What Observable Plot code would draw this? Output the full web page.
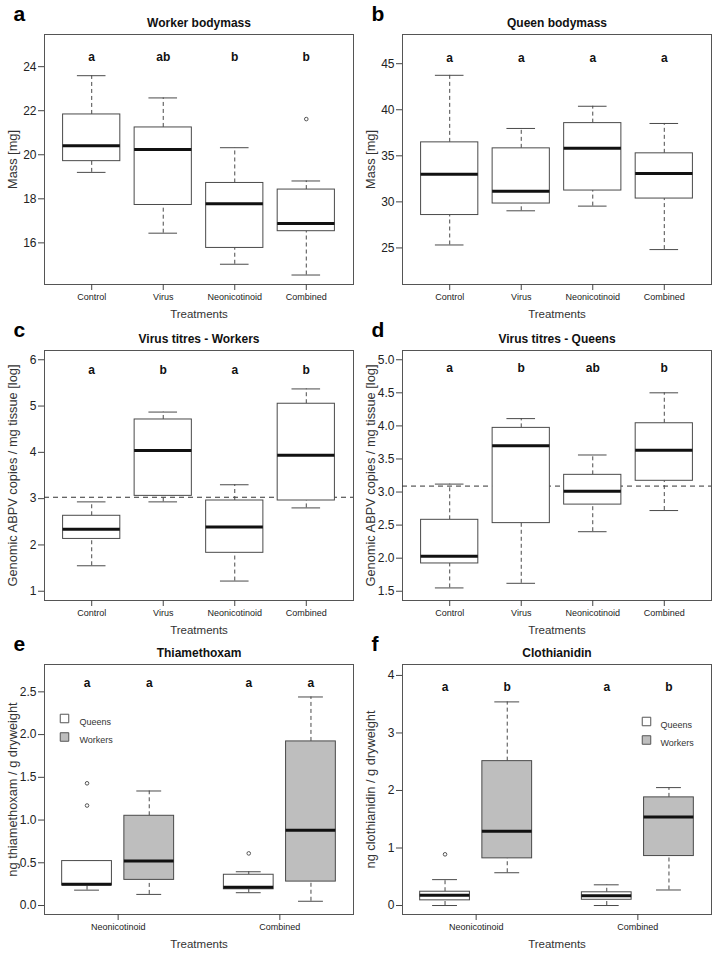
<!DOCTYPE html>
<html>
<head>
<meta charset="utf-8">
<script src="https://cdn.jsdelivr.net/npm/d3@7"></script>
<script src="https://cdn.jsdelivr.net/npm/@observablehq/plot@0.6"></script>
<style>
  body { margin: 0; background: #fff; }
  #wrap { position: relative; width: 716px; height: 953px; overflow: hidden; background: #fff; }
  .panel { position: absolute; }
</style>
</head>
<body>
<div id="wrap"></div>
<script>
// ---------- data ----------
const treatments = ["Control", "Virus", "Neonicotinoid", "Combined"];
const residueTreatments = ["Neonicotinoid", "Combined"];
const castes = ["Queens", "Workers"];

// each row: [min, q1, median, q3, max]
const workerMass = [
  [19.20, 19.71, 20.41, 21.83, 23.59],
  [16.44, 17.72, 20.24, 21.24, 22.58],
  [15.03, 15.77, 17.78, 18.72, 20.32],
  [14.54, 16.53, 16.88, 18.42, 18.81]
];
const workerMassOutliers = [[3, 21.62]];
const workerMassLetters = ["a", "ab", "b", "b"];

const queenMass = [
  [25.32, 28.57, 33.00, 36.46, 43.74],
  [29.03, 29.82, 31.16, 35.81, 37.97],
  [29.54, 31.23, 35.81, 38.55, 40.38],
  [24.82, 30.36, 33.07, 35.27, 38.51]
];
const queenMassOutliers = [];
const queenMassLetters = ["a", "a", "a", "a"];

const titreWorkers = [
  [1.55, 2.13, 2.34, 2.63, 2.93],
  [2.93, 3.06, 4.04, 4.71, 4.87],
  [1.22, 1.83, 2.39, 2.96, 3.30],
  [2.80, 2.96, 3.94, 5.05, 5.37]
];
const titreWorkersThreshold = 3.03;
const titreWorkersLetters = ["a", "b", "a", "b"];

const titreQueens = [
  [1.55, 1.92, 2.03, 2.58, 3.12],
  [1.62, 2.53, 3.70, 3.97, 4.11],
  [2.40, 2.81, 3.01, 3.26, 3.56],
  [2.72, 3.17, 3.63, 4.04, 4.50]
];
const titreQueensThreshold = 3.09;
const titreQueensLetters = ["a", "b", "ab", "b"];

// order: Neonicotinoid-Queens, Neonicotinoid-Workers, Combined-Queens, Combined-Workers
const thiamethoxam = [
  [0.18, 0.235, 0.25, 0.52, 0.52],
  [0.13, 0.30, 0.52, 1.05, 1.34],
  [0.15, 0.19, 0.215, 0.36, 0.395],
  [0.05, 0.28, 0.88, 1.92, 2.44]
];
const thiamethoxamOutliers = [[0, 1.17], [0, 1.43], [2, 0.61]];
const thiamethoxamLetters = ["a", "a", "a", "a"];

const clothianidin = [
  [0.00, 0.09, 0.18, 0.24, 0.45],
  [0.57, 0.82, 1.29, 2.51, 3.54],
  [0.00, 0.10, 0.17, 0.23, 0.36],
  [0.27, 0.86, 1.54, 1.88, 2.05]
];
const clothianidinOutliers = [[0, 0.89]];
const clothianidinLetters = ["a", "b", "a", "b"];

// ---------- drawing ----------
const FONT = "'Liberation Sans', Arial, Helvetica, sans-serif";
const casteFill = {Queens: "#ffffff", Workers: "#bebebe"};
const wrap = document.getElementById("wrap");

// simple layout: 4 treatment groups
const groupLayout = {
  pos: i => i + 1,
  ticks: treatments.map((t, i) => i + 1),
  tickLabels: treatments,
  xDomain: [0.34, 4.66],
  fill: () => "#ffffff"
};
// grouped layout: treatment x caste
const residueLayout = {
  pos: i => 1 + Math.floor(i / 2) * 2.6 + (i % 2),
  ticks: residueTreatments.map((t, g) => 1.5 + g * 2.6),
  tickLabels: residueTreatments,
  xDomain: [0.316, 5.284],
  fill: i => casteFill[castes[i % 2]]
};

function drawPanel(o) {
  const L = o.layout;
  const rows = o.stats.map((s, i) => ({
    x: L.pos(i), min: s[0], q1: s[1], med: s[2], q3: s[3], max: s[4],
    fill: L.fill(i), sig: o.letters[i]
  }));
  const outs = (o.outliers || []).map(([i, v]) => ({x: L.pos(i), y: v}));
  const tickName = new Map(L.ticks.map((t, i) => [t, L.tickLabels[i]]));
  const lineCol = "#4a4a4a";

  const marks = [
    Plot.frame({stroke: "#555", strokeWidth: 1}),
    Plot.axisX(L.ticks, {
      tickFormat: d => tickName.get(d), fontSize: 9, tickSize: 6, tickPadding: 3,
      label: null, stroke: "#444"
    }),
    Plot.axisY(o.yTicks, {
      tickFormat: o.yFormat, fontSize: 12, tickSize: 6, tickPadding: 2,
      label: null, stroke: "#444"
    })
  ];
  if (o.threshold != null) {
    marks.push(Plot.ruleY([o.threshold], {stroke: "#333", strokeDasharray: "5,4", strokeWidth: 1}));
  }
  marks.push(
    Plot.ruleX(rows, {x: "x", y1: "q3", y2: "max", stroke: lineCol, strokeDasharray: "4,3"}),
    Plot.ruleX(rows, {x: "x", y1: "min", y2: "q1", stroke: lineCol, strokeDasharray: "4,3"}),
    Plot.ruleY(rows, {y: "max", x1: d => d.x - 0.2, x2: d => d.x + 0.2, stroke: lineCol}),
    Plot.ruleY(rows, {y: "min", x1: d => d.x - 0.2, x2: d => d.x + 0.2, stroke: lineCol}),
    Plot.rect(rows, {x1: d => d.x - 0.4, x2: d => d.x + 0.4, y1: "q1", y2: "q3", fill: "fill", stroke: lineCol, strokeWidth: 1}),
    Plot.ruleY(rows, {y: "med", x1: d => d.x - 0.4, x2: d => d.x + 0.4, stroke: "#111", strokeWidth: 3}),
    Plot.dot(outs, {x: "x", y: "y", r: 1.8, stroke: "#555", strokeWidth: 1, fill: "none"}),
    Plot.text(rows, {x: "x", y: () => o.letterY, text: "sig", fontWeight: "bold", fontSize: 12, fill: "#111"}),
    Plot.text([o.title], {frameAnchor: "top", dy: -8, lineAnchor: "bottom", fontWeight: "bold", fontSize: 12, fill: "#111"}),
    Plot.text([o.letter], {frameAnchor: "top-left", dx: -31, dy: -14, lineAnchor: "bottom", textAnchor: "start", fontWeight: "bold", fontSize: 21, fill: "#000"}),
    Plot.text([o.yLabel], {frameAnchor: "left", dx: -32, rotate: -90, textAnchor: "middle", lineAnchor: "middle", fontSize: 12.8, fill: "#333"}),
    Plot.text(["Treatments"], {frameAnchor: "bottom", dy: 33, lineAnchor: "bottom", fontSize: 11.5, fill: "#333"})
  );
  if (o.legend) {
    const lg = o.legend;
    castes.forEach((c, k) => {
      marks.push(
        Plot.dot([c], {frameAnchor: lg.anchor, dx: lg.keyDx, dy: lg.dy + k * 18.5, symbol: "square", r: 4.8, fill: casteFill[c], stroke: "#555", strokeWidth: 1}),
        Plot.text([c], {frameAnchor: lg.anchor, dx: lg.textDx, dy: lg.dy + k * 18.5, textAnchor: "start", fontSize: 9, fill: "#333"})
      );
    });
  }

  const svg = Plot.plot({
    width: 358, height: 322,
    marginLeft: 44, marginRight: 5, marginTop: 34, marginBottom: 38,
    style: {background: "transparent", overflow: "visible", fontFamily: FONT, color: "#222"},
    x: {type: "linear", domain: L.xDomain},
    y: {type: "linear", domain: o.yDomain},
    color: {type: "identity"},
    marks
  });
  const div = document.createElement("div");
  div.className = "panel";
  div.style.left = o.left + "px";
  div.style.top = o.top + "px";
  div.appendChild(svg);
  wrap.appendChild(div);
}

const fmt0 = d3.format("d");
const fmt1 = d3.format(".1f");

drawPanel({
  left: 0, top: 0, layout: groupLayout, stats: workerMass, outliers: workerMassOutliers,
  letters: workerMassLetters, letterY: 24.44, yDomain: [14.11, 25.46], yTicks: [16, 18, 20, 22, 24],
  yFormat: fmt0, title: "Worker bodymass", letter: "a", yLabel: "Mass [mg]"
});
drawPanel({
  left: 358, top: 0, layout: groupLayout, stats: queenMass, outliers: queenMassOutliers,
  letters: queenMassLetters, letterY: 45.6, yDomain: [21.03, 48.17], yTicks: [25, 30, 35, 40, 45],
  yFormat: fmt0, title: "Queen bodymass", letter: "b", yLabel: "Mass [mg]"
});
drawPanel({
  left: 0, top: 316, layout: groupLayout, stats: titreWorkers, threshold: titreWorkersThreshold,
  letters: titreWorkersLetters, letterY: 5.78, yDomain: [0.8, 6.2], yTicks: [1, 2, 3, 4, 5, 6],
  yFormat: fmt0, title: "Virus titres - Workers", letter: "c", yLabel: "Genomic ABPV copies / mg tissue [log]"
});
drawPanel({
  left: 358, top: 316, layout: groupLayout, stats: titreQueens, threshold: titreQueensThreshold,
  letters: titreQueensLetters, letterY: 4.88, yDomain: [1.36, 5.14], yTicks: [1.5, 2, 2.5, 3, 3.5, 4, 4.5, 5],
  yFormat: fmt1, title: "Virus titres - Queens", letter: "d", yLabel: "Genomic ABPV copies / mg tissue [log]"
});
drawPanel({
  left: 0, top: 630, layout: residueLayout, stats: thiamethoxam, outliers: thiamethoxamOutliers,
  letters: thiamethoxamLetters, letterY: 2.605, yDomain: [-0.105, 2.82], yTicks: [0, 0.5, 1, 1.5, 2, 2.5],
  yFormat: fmt1, title: "Thiamethoxam", letter: "e", yLabel: "ng thiamethoxam / g dryweight",
  legend: {anchor: "top-left", keyDx: 20, textDx: 35, dy: 54}
});
drawPanel({
  left: 358, top: 630, layout: residueLayout, stats: clothianidin, outliers: clothianidinOutliers,
  letters: clothianidinLetters, letterY: 3.80, yDomain: [-0.156, 4.19], yTicks: [0, 1, 2, 3, 4],
  yFormat: fmt0, title: "Clothianidin", letter: "f", yLabel: "ng clothianidin / g dryweight",
  legend: {anchor: "top-right", keyDx: -65, textDx: -51, dy: 57}
});
</script>
</body>
</html>
